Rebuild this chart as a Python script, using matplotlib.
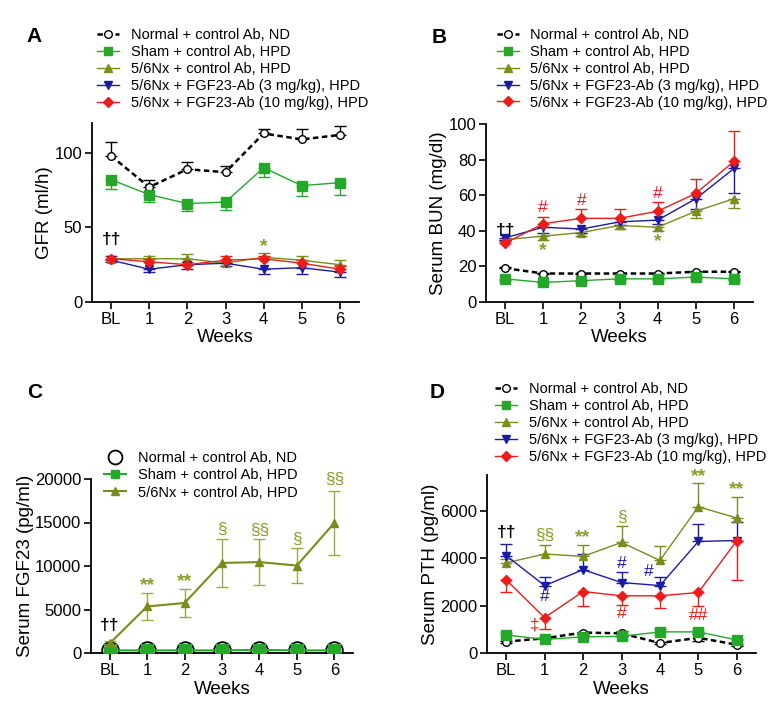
import numpy as np
import matplotlib
matplotlib.use("Agg")
import matplotlib.pyplot as plt
from matplotlib.lines import Line2D

plt.rcParams['font.family'] = ['Liberation Sans', 'DejaVu Sans']

weeks = ["BL", "1", "2", "3", "4", "5", "6"]

labels_all = ["Normal + control Ab, ND",
              "Sham + control Ab, HPD",
              "5/6Nx + control Ab, HPD",
              "5/6Nx + FGF23-Ab (3 mg/kg), HPD",
              "5/6Nx + FGF23-Ab (10 mg/kg), HPD"]

# panel A: GFR (ml/h)
gfr_normal = [98, 77, 89, 87, 113, 109, 112]
gfr_normal_err = [9, 5, 5, 4, 3, 7, 6]
gfr_sham = [82, 72, 66, 67, 90, 78, 80]
gfr_sham_err = [6, 5, 5, 5, 6, 7, 8]
gfr_nx = [29, 29, 29, 26, 30, 28, 25]
gfr_nx_err = [2, 2, 3, 2, 3, 3, 3]
gfr_ab3 = [28, 22, 25, 26, 22, 23, 20]
gfr_ab3_err = [1, 2, 3, 2, 3, 4, 3]
gfr_ab10 = [29, 27, 25, 28, 29, 26, 22]
gfr_ab10_err = [2, 2, 2, 3, 2, 2, 2]

# panel B: serum BUN (mg/dl)
bun_normal = [19, 16, 16, 16, 16, 17, 17]
bun_normal_err = [0.5, 0.5, 0.5, 0.5, 0.5, 0.5, 0.5]
bun_sham = [13, 11, 12, 13, 13, 14, 13]
bun_sham_err = [0.5, 0.5, 0.5, 0.5, 0.5, 0.5, 0.5]
bun_nx = [35, 37, 39, 43, 42, 51, 58]
bun_nx_err = [1, 2, 2, 2, 2, 4, 5]
bun_ab3 = [36, 42, 41, 45, 46, 58, 75]
bun_ab3_err = [1, 3, 2, 2, 2, 6, 14]
bun_ab10 = [33, 44, 47, 47, 51, 61, 79]
bun_ab10_err = [1, 4, 5, 5, 5, 8, 17]

# panel C: serum FGF23 (pg/ml)
fgf_normal = [300, 350, 300, 350, 350, 300, 300]
fgf_sham = [300, 300, 300, 300, 350, 300, 300]
fgf_nx = [1100, 5350, 5750, 10350, 10450, 10050, 14950]
fgf_nx_err = [300, 1500, 1600, 2800, 2650, 2050, 3700]

# panel D: serum PTH (pg/ml)
pth_normal = [480, 620, 860, 830, 420, 640, 350]
pth_normal_err = [40, 40, 40, 100, 40, 150, 40]
pth_sham = [760, 570, 680, 700, 890, 890, 550]
pth_sham_err = [80, 60, 60, 60, 120, 100, 60]
pth_nx = [3800, 4170, 4070, 4660, 3900, 6160, 5690]
pth_nx_err = [150, 380, 480, 680, 620, 1010, 890]
pth_ab3 = [4100, 2840, 3510, 2970, 2840, 4700, 4740]
pth_ab3_err = [490, 380, 660, 440, 360, 740, 760]
pth_ab10 = [3080, 1490, 2590, 2410, 2410, 2550, 4730]
pth_ab10_err = [500, 480, 630, 380, 500, 550, 1650]

# significance marks: (x, y, text, colour key)
marks_a = [(0, 42, "††", "k"), (4, 37, "*", "nx")]
marks_b = [(0, 40, "††", "k"), (1, 53, "#", "r"), (2, 57, "#", "r"), (4, 61, "#", "r"),
           (1, 29, "*", "nx"), (4, 34, "*", "nx")]
marks_c = [(0, 3200, "††", "k"), (1, 7700, "**", "nx"), (2, 8200, "**", "nx"),
           (3, 14250, "§", "nx"), (4, 14100, "§§", "nx"), (5, 13100, "§", "nx"),
           (6, 19900, "§§", "nx")]
marks_d = [(0, 5070, "††", "k"), (1, 4940, "§§", "nx"), (2, 4870, "**", "nx"),
           (3, 5720, "§", "nx"), (5, 7420, "**", "nx"), (6, 6890, "**", "nx"),
           (1, 2380, "#", "b"), (3, 3750, "#", "b"), (3.7, 3430, "#", "b"),
           (0.75, 1180, "‡", "r"), (3, 1650, "#", "r"), (5, 1600, "##", "r")]

C_GREEN = "#25a82a"
C_OLIVE = "#7b8c1c"
C_OLIVE_TXT = "#8c9d2a"
C_BLUE = "#1b1ba6"
C_RED = "#ee1b1b"
mark_colors = {"k": "black", "nx": C_OLIVE_TXT, "r": C_RED, "b": C_BLUE}
DASH = (2.2, 1.4)

x = np.arange(len(weeks))


def draw(ax, y, err, direction, color, marker, ms, dashed=False, lw=1.0, mfc=None, z=2, cap_color=None):
    y = np.asarray(y, dtype=float)
    if err is not None:
        err = np.asarray(err, dtype=float)
        zero = np.zeros_like(err)
        if direction == 'up':
            yerr = [zero, err]
        elif direction == 'down':
            yerr = [err, zero]
        else:
            yerr = [err, err]
        ax.errorbar(x, y, yerr=yerr, fmt='none', ecolor=cap_color or color,
                    elinewidth=1.0, capsize=4, capthick=1.0, zorder=z)
    line, = ax.plot(x, y, ls='-', lw=lw, color=color, marker=marker, ms=ms,
                    mfc=mfc if mfc is not None else color, mec=color if mfc is None else 'black',
                    mew=1.0, zorder=z + 0.5)
    if dashed:
        line.set_dashes(DASH)


def style(ax, ylabel, ylim, yticks):
    ax.set_xlim(-0.5, 6.5)
    ax.set_ylim(*ylim)
    ax.set_yticks(yticks)
    ax.set_xticks(x)
    ax.set_xticklabels(weeks)
    ax.set_xlabel("Weeks", fontsize=13.5, labelpad=2)
    ax.set_ylabel(ylabel, fontsize=13.5, labelpad=1)
    for s in ['top', 'right']:
        ax.spines[s].set_visible(False)
    for s in ['left', 'bottom']:
        ax.spines[s].set_linewidth(1.3)
    ax.tick_params(direction='out', length=5, width=1.2, labelsize=12, pad=2)


def add_marks(ax, marks):
    for mx, my, txt, ck in marks:
        fs = 12.5
        if txt.startswith("*"):
            fs = 14
        weight = 'bold' if ck == 'k' or txt.startswith("*") else 'normal'
        ax.text(mx, my, txt, color=mark_colors[ck], fontsize=fs, ha='center', va='center',
                fontweight=weight, zorder=10)


def five_legend(ax, anchor):
    h0 = Line2D([], [], ls='-', lw=1.8, color='black', marker='o', ms=5.5, mfc='white', mec='black')
    h0.set_dashes(DASH)
    handles = [
        h0,
        Line2D([], [], ls='-', lw=1.0, color=C_GREEN, marker='s', ms=6),
        Line2D([], [], ls='-', lw=1.0, color=C_OLIVE, marker='^', ms=6),
        Line2D([], [], ls='-', lw=1.0, color=C_BLUE, marker='v', ms=6),
        Line2D([], [], ls='-', lw=1.0, color=C_RED, marker='D', ms=5),
    ]
    ax.legend(handles, labels_all, loc='upper left', bbox_to_anchor=anchor, frameon=False,
              fontsize=10.5, borderpad=0, borderaxespad=0, handlelength=1.5,
              handletextpad=0.8, labelspacing=0.2)


fig = plt.figure(figsize=(7.79, 7.13), dpi=100)
W, H = 779.0, 713.0

def axes_px(left, top, right, bottom):
    return fig.add_axes([left / W, 1 - bottom / H, (right - left) / W, (bottom - top) / H])

axA = axes_px(92, 123, 359, 302)
axB = axes_px(486, 124, 753, 302)
axC = axes_px(91, 479, 353, 653)
axD = axes_px(487, 475, 756, 653)

# A
draw(axA, gfr_normal, gfr_normal_err, 'up', 'black', 'o', 5.5, dashed=True, lw=1.8, mfc='white')
draw(axA, gfr_sham, gfr_sham_err, 'down', C_GREEN, 's', 6.5)
draw(axA, gfr_nx, gfr_nx_err, 'up', C_OLIVE, '^', 6)
draw(axA, gfr_ab3, gfr_ab3_err, 'down', C_BLUE, 'v', 6)
draw(axA, gfr_ab10, gfr_ab10_err, 'up', C_RED, 'D', 5.5)
style(axA, "GFR (ml/h)", (0, 120), [0, 50, 100])
add_marks(axA, marks_a)
five_legend(axA, (0.02, 1.53))

# B
draw(axB, bun_normal, bun_normal_err, 'up', 'black', 'o', 5.5, dashed=True, lw=1.8, mfc='white')
draw(axB, bun_sham, bun_sham_err, 'down', C_GREEN, 's', 6.5)
draw(axB, bun_nx, bun_nx_err, 'down', C_OLIVE, '^', 6)
draw(axB, bun_ab3, bun_ab3_err, 'down', C_BLUE, 'v', 6)
draw(axB, bun_ab10, bun_ab10_err, 'up', C_RED, 'D', 5.5)
style(axB, "Serum BUN (mg/dl)", (0, 100), [0, 20, 40, 60, 80, 100])
add_marks(axB, marks_b)
five_legend(axB, (0.04, 1.54))

# C
axC.plot(x, fgf_normal, ls='none', marker='o', ms=12, mfc='white', mec='black', mew=1.3, zorder=3)
axC.plot(x, fgf_sham, ls='-', lw=1.5, color=C_GREEN, marker='s', ms=8.5, zorder=4)
draw(axC, fgf_nx, fgf_nx_err, 'both', C_OLIVE, '^', 6, lw=1.5, z=5, cap_color="#9aaa45")
style(axC, "Serum FGF23 (pg/ml)", (0, 20000), [0, 5000, 10000, 15000, 20000])
add_marks(axC, marks_c)
handlesC = [
    Line2D([], [], ls='none', marker='o', ms=10, mfc='white', mec='black', mew=1.3),
    Line2D([], [], ls='-', lw=1.5, color=C_GREEN, marker='s', ms=6),
    Line2D([], [], ls='-', lw=1.5, color=C_OLIVE, marker='^', ms=6),
]
axC.legend(handlesC, labels_all[:3], loc='upper left', bbox_to_anchor=(0.05, 1.16), frameon=False,
           fontsize=10.5, borderpad=0, borderaxespad=0, handlelength=1.5,
           handletextpad=0.8, labelspacing=0.22)

# D
draw(axD, pth_normal, pth_normal_err, 'both', 'black', 'o', 5.5, dashed=True, lw=1.8, mfc='white')
draw(axD, pth_sham, pth_sham_err, 'up', C_GREEN, 's', 6.5)
draw(axD, pth_nx, pth_nx_err, 'up', C_OLIVE, '^', 6)
draw(axD, pth_ab3, pth_ab3_err, 'up', C_BLUE, 'v', 6)
draw(axD, pth_ab10, pth_ab10_err, 'down', C_RED, 'D', 5.5)
style(axD, "Serum PTH (pg/ml)", (0, 7500), [0, 2000, 4000, 6000])
add_marks(axD, marks_d)
five_legend(axD, (0.03, 1.52))

for lab, px, py in [("A", 26, 42), ("B", 432, 43), ("C", 27, 398), ("D", 430, 398)]:
    fig.text(px / W, 1 - py / H, lab, fontsize=15, fontweight='bold', ha='left', va='baseline')

fig.savefig("out.png", dpi=100)
